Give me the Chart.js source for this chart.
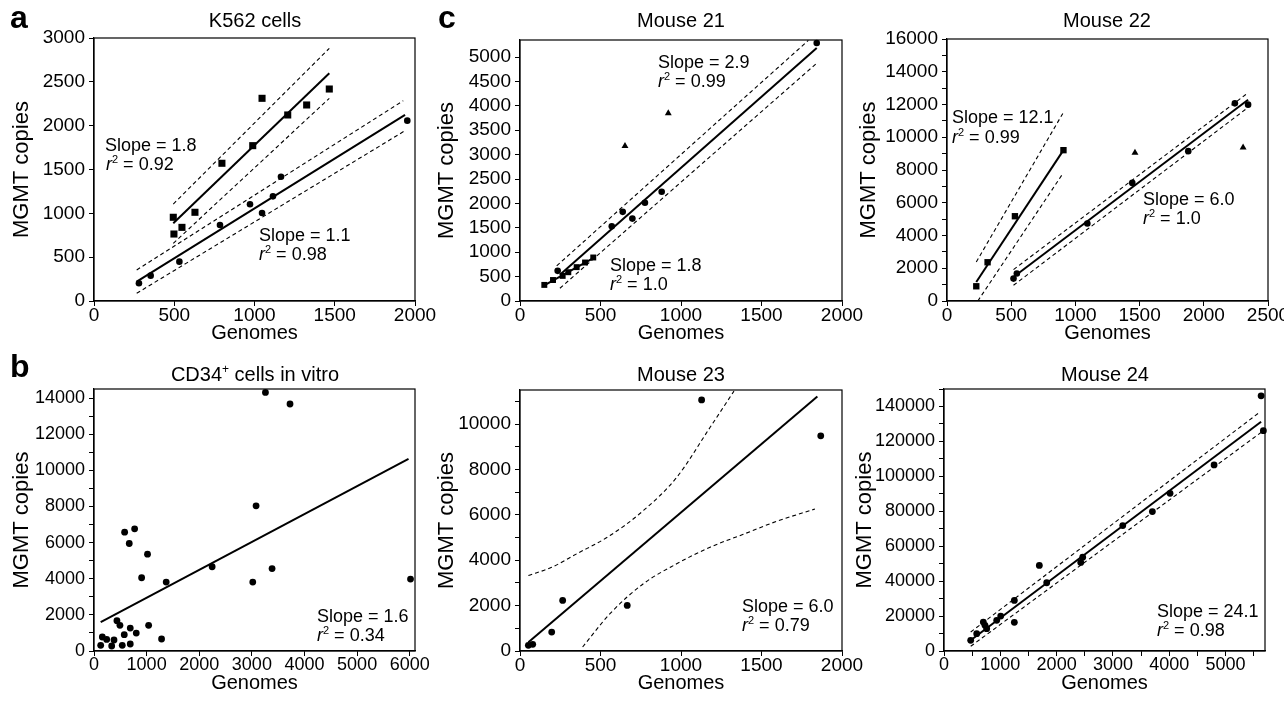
<!DOCTYPE html>
<html><head><meta charset="utf-8">
<script src="https://cdn.jsdelivr.net/npm/chart.js@4.4.1/dist/chart.umd.min.js"></script>
<style>
html,body{margin:0;padding:0;background:#fff;}
body{width:1284px;height:704px;position:relative;overflow:hidden;}
.layer{position:absolute;left:0;top:0;width:1284px;height:704px;}
</style></head><body>
<div class="layer"><canvas id="pA"></canvas></div>
<div class="layer"><canvas id="p21"></canvas></div>
<div class="layer"><canvas id="p22"></canvas></div>
<div class="layer"><canvas id="pB"></canvas></div>
<div class="layer"><canvas id="p23"></canvas></div>
<div class="layer"><canvas id="p24"></canvas></div>
<script>
// ---------- DATA ----------
// K562 cells
const k562SqX = [494, 498, 548, 629, 797, 989, 1047, 1207, 1325, 1466];
const k562SqY = [955, 764, 840, 1012, 1571, 1772, 2312, 2122, 2236, 2418];
const k562CiX = [280, 353, 532, 785, 972, 1047, 1115, 1165, 1952];
const k562CiY = [202, 289, 449, 867, 1103, 1004, 1194, 1418, 2057];
const k562SqFitX = [494, 1466], k562SqFitY = [886, 2597];
const k562SqUpX = [494, 1466], k562SqUpY = [1106, 2882];
const k562SqLoX = [494, 1466], k562SqLoY = [658, 2312];
const k562CiFitX = [266, 1938], k562CiFitY = [220, 2122];
const k562CiUpX = [266, 1927], k562CiUpY = [354, 2285];
const k562CiLoX = [266, 1938], k562CiLoY = [88, 1943];
// Mouse 21
const m21SqX = [151, 205, 265, 300, 352, 404, 455];
const m21SqY = [330, 430, 515, 590, 694, 789, 892];
const m21CiX = [234, 570, 638, 698, 776, 880, 1843];
const m21CiY = [618, 1531, 1827, 1689, 2013, 2239, 5288];
const m21TrX = [652, 921], m21TrY = [3179, 3846];
const m21CiFitX = [248, 1843], m21CiFitY = [536, 5185];
const m21CiUpX = [228, 1791], m21CiUpY = [721, 5342];
const m21CiLoX = [248, 1839], m21CiLoY = [262, 4862];
const m21SqFitX = [145, 455], m21SqFitY = [309, 880];
// Mouse 22
const m22SqX = [228, 316, 529, 907], m22SqY = [899, 2366, 5177, 9211];
const m22CiX = [518, 544, 1093, 1443, 1879, 2242, 2345];
const m22CiY = [1369, 1675, 4731, 7213, 9150, 12070, 11990];
const m22TrX = [1464, 2306], m22TrY = [9058, 9376];
const m22SqFitX = [228, 907], m22SqFitY = [1161, 9211];
const m22SqUpX = [228, 902], m22SqUpY = [2384, 11455];
const m22SqLoX = [240, 894], m22SqLoY = [0, 7683];
const m22CiFitX = [518, 2345], m22CiFitY = [1467, 12286];
const m22CiUpX = [518, 2345], m22CiUpY = [1919, 12714];
const m22CiLoX = [518, 2345], m22CiLoY = [960, 11822];
// CD34+ cells in vitro
const cdX = [3258, 3725, 3080, 582, 772, 670, 1017, 905, 1372, 2245, 3017, 3384, 6015,
             127, 158, 241, 336, 380, 436, 493, 537, 575, 689, 689, 803, 1038, 1284];
const cdY = [14309, 13669, 8033, 6575, 6762, 5950, 5359, 4055, 3812, 4663, 3812, 4564, 3978,
             315, 774, 641, 276, 608, 1674, 1420, 315, 906, 387, 1271, 994, 1420, 663];
const cdFitX = [127, 5977], cdFitY = [1602, 10630];
// Mouse 23
const m23X = [52, 79, 197, 265, 666, 1128, 1868];
const m23Y = [250, 294, 835, 2229, 2009, 11064, 9481];
const m23FitX = [52, 1847], m23FitY = [382, 11209];
const m23UpX = [52, 197, 352, 559, 766, 973, 1180, 1329];
const m23UpY = [3327, 3690, 4281, 5086, 6185, 7648, 9846, 11450];
const m23LoX = [389, 559, 766, 973, 1180, 1387, 1594, 1832];
const m23LoY = [176, 1644, 2963, 3842, 4571, 5143, 5714, 6256];
// Mouse 24
const m24X = [474, 581, 698, 728, 758, 936, 1007, 1249, 1249, 1693, 1824, 2428, 2463, 3174, 3700, 4014, 4796, 5631, 5671];
const m24Y = [6114, 9943, 16571, 14686, 12800, 17543, 20000, 28971, 16400, 48971, 39086, 50686, 53714, 71829, 79829, 90286, 106514, 146114, 126114];
const m24FitX = [474, 5631], m24FitY = [6114, 131257];
const m24UpX = [474, 5600], m24UpY = [10857, 136571];
const m24LoX = [474, 5671], m24LoY = [2686, 126114];

// ---------- RENDERING ----------
const FONT = '"Liberation Sans", Arial, Helvetica, sans-serif';
Chart.defaults.font.family = FONT;
Chart.defaults.color = '#000';
const YT = 22, XT = 20, TTL = 20, ANN = 18;

function pts(xs, ys){ return xs.map((x,i)=>({x:x, y:ys[i]})); }
function dots(xs, ys, style, r){ return {data:pts(xs,ys), pointStyle:style, pointRadius:r, pointHoverRadius:r,
  pointBackgroundColor:'#000', pointBorderColor:'#000', pointBorderWidth:0, backgroundColor:'#000', borderColor:'#000', showLine:false, clip:12}; }
function solid(xs, ys){ return {data:pts(xs,ys), showLine:true, pointRadius:0, pointHoverRadius:0, borderColor:'#000', borderWidth:2, fill:false}; }
function dashed(xs, ys){ return {data:pts(xs,ys), showLine:true, pointRadius:0, pointHoverRadius:0, borderColor:'#000', borderWidth:1.1, borderDash:[4,3], fill:false, cubicInterpolationMode:'monotone'}; }

function axis(pos, min, max, step, labStep, size, text, tpad, tickSize, titleSize){
  return {
    type:'linear', position:pos, min:min, max:max,
    afterFit: s => { if (pos==='left') s.width = size; else s.height = size; s.paddingLeft=0; s.paddingRight=0; s.paddingTop=0; s.paddingBottom=0; },
    afterBuildTicks: s => { const t = []; for (let k = 0; min + k*step <= max + 1e-9; k++) t.push({value: min + k*step}); s.ticks = t; },
    ticks:{stepSize:step, autoSkip:false, maxRotation:0, minRotation:0, includeBounds:false, padding: pos==='left'?4:-2,
      color:'#000', font:{size:tickSize}, callback: v => { const r = v/labStep; return Math.abs(r - Math.round(r)) < 1e-6 ? String(Math.round(v)) : ''; }},
    grid:{display:true, drawOnChartArea:false, drawTicks:true, tickLength:5, tickColor:'#000', color:'#000', lineWidth:1},
    border:{display:true, color:'#000', width:1.2},
    title:{display:true, text:text, color:'#000', font:{size:titleSize}, padding: pos==='left'?{top:tpad,bottom:0}:{top:0,bottom:tpad}}
  };
}

const decoMap = {};
function drawRich(ctx, it){
  const size = it.size; let x = it.x;
  const fontFor = s => (s.it?'italic ':'') + (it.bold?'bold ':'') + (s.sup? Math.round(size*0.62) : size) + 'px ' + FONT;
  let total = 0;
  it.segs.forEach(s => { ctx.font = fontFor(s); total += ctx.measureText(s.t).width; });
  if (it.align === 'center') x -= total/2; else if (it.align === 'right') x -= total;
  ctx.textBaseline = 'alphabetic'; ctx.textAlign = 'left'; ctx.fillStyle = '#000';
  it.segs.forEach(s => { ctx.font = fontFor(s); ctx.fillText(s.t, x, it.y - (s.sup? size*0.4 : 0)); x += ctx.measureText(s.t).width; });
}
const decoPlugin = {
  id:'deco',
  afterDatasetsDraw(chart){
    const a = chart.chartArea, ctx = chart.ctx;
    ctx.save(); ctx.strokeStyle='#000'; ctx.lineWidth=1.2;
    ctx.strokeRect(a.left, a.top, a.right-a.left, a.bottom-a.top);
    ctx.restore();
  },
  afterDraw(chart){
    const items = decoMap[chart.canvas.id] || [];
    const ctx = chart.ctx; ctx.save();
    items.forEach(it => drawRich(ctx, it));
    ctx.restore();
  }
};
Chart.register(decoPlugin);

function T(x, y, s, size, align, bold){ return {x:x, y:y, segs:[{t:s}], size:size, align:align||'left', bold:!!bold}; }
function R2(x, y, v){ return {x:x, y:y, segs:[{t:'r', it:true},{t:'2', sup:true},{t:' = ' + v}], size:ANN, align:'left'}; }

function panel(id, area, xa, ya, yTitleX, tickSize, datasets, deco){
  const yW = 92, xH = 50;
  const ax = axis('bottom', xa[0], xa[1], xa[2], xa[3], xH, 'Genomes', 6, tickSize, XT);
  const ay = axis('left', ya[0], ya[1], ya[2], ya[3], yW, 'MGMT copies', Math.max(0, yTitleX - (area.x0 - yW) - YT*0.6), tickSize, YT);
  decoMap[id] = deco;
  new Chart(document.getElementById(id), {
    type:'scatter',
    data:{datasets:datasets},
    options:{
      responsive:true, maintainAspectRatio:false, animation:false,
      layout:{padding:{left:area.x0 - yW, top:area.y0, right:1284 - area.x1, bottom:704 - (area.y1 + xH)}},
      plugins:{legend:{display:false}, tooltip:{enabled:false}, title:{display:false}},
      events:[],
      scales:{x:ax, y:ay}
    }
  });
}

// Panel a: K562 cells
panel('pA', {x0:94, x1:415, y0:38, y1:301}, [0, 2000, 500, 500], [0, 3000, 500, 500], 22, 19, [
  dots(k562SqX, k562SqY, 'rect', 5), dots(k562CiX, k562CiY, 'circle', 3.3),
  solid(k562SqFitX, k562SqFitY), dashed(k562SqUpX, k562SqUpY), dashed(k562SqLoX, k562SqLoY),
  solid(k562CiFitX, k562CiFitY), dashed(k562CiUpX, k562CiUpY), dashed(k562CiLoX, k562CiLoY)
], [
  T(10, 28, 'a', 32, 'left', true), T(255, 27, 'K562 cells', TTL, 'center'),
  T(105, 151, 'Slope = 1.8', ANN), R2(106, 170, '0.92'),
  T(259, 241, 'Slope = 1.1', ANN), R2(259, 260, '0.98')
]);

// Mouse 21
panel('p21', {x0:520, x1:842, y0:40, y1:301}, [0, 2000, 500, 500], [0, 5350, 500, 500], 447, 19, [
  dots(m21SqX, m21SqY, 'rect', 4.2), dots(m21CiX, m21CiY, 'circle', 3.3), dots(m21TrX, m21TrY, 'triangle', 4),
  solid(m21CiFitX, m21CiFitY), dashed(m21CiUpX, m21CiUpY), dashed(m21CiLoX, m21CiLoY), solid(m21SqFitX, m21SqFitY)
], [
  T(438, 28, 'c', 32, 'left', true), T(681, 27, 'Mouse 21', TTL, 'center'),
  T(658, 68, 'Slope = 2.9', ANN), R2(658, 87, '0.99'),
  T(610, 271, 'Slope = 1.8', ANN), R2(610, 290, '1.0')
]);

// Mouse 22
panel('p22', {x0:947, x1:1268, y0:39, y1:301}, [0, 2500, 500, 500], [0, 16000, 1000, 2000], 869, 19, [
  dots(m22SqX, m22SqY, 'rect', 4.5), dots(m22CiX, m22CiY, 'circle', 3.3), dots(m22TrX, m22TrY, 'triangle', 4),
  solid(m22SqFitX, m22SqFitY), dashed(m22SqUpX, m22SqUpY), dashed(m22SqLoX, m22SqLoY),
  solid(m22CiFitX, m22CiFitY), dashed(m22CiUpX, m22CiUpY), dashed(m22CiLoX, m22CiLoY)
], [
  T(1107, 27, 'Mouse 22', TTL, 'center'),
  T(952, 123, 'Slope = 12.1', ANN), R2(952, 143, '0.99'),
  T(1143, 205, 'Slope = 6.0', ANN), R2(1143, 224, '1.0')
]);

// Panel b: CD34+ cells in vitro
panel('pB', {x0:94, x1:415, y0:389, y1:651}, [0, 6100, 1000, 1000], [0, 14500, 1000, 2000], 22, 18, [
  dots(cdX, cdY, 'circle', 3.4), solid(cdFitX, cdFitY)
], [
  T(10, 377, 'b', 32, 'left', true),
  {x:255, y:381, segs:[{t:'CD34'},{t:'+', sup:true},{t:' cells in vitro'}], size:TTL, align:'center'},
  T(317, 622, 'Slope = 1.6', ANN), R2(317, 641, '0.34')
]);

// Mouse 23
panel('p23', {x0:520, x1:842, y0:390, y1:651}, [0, 2000, 500, 500], [0, 11500, 1000, 2000], 447, 19, [
  dots(m23X, m23Y, 'circle', 3.4), solid(m23FitX, m23FitY), dashed(m23UpX, m23UpY), dashed(m23LoX, m23LoY)
], [
  T(681, 381, 'Mouse 23', TTL, 'center'),
  T(742, 612, 'Slope = 6.0', ANN), R2(742, 631, '0.79')
]);

// Mouse 24
panel('p24', {x0:944, x1:1265, y0:389, y1:651}, [0, 5700, 500, 1000], [0, 150000, 10000, 20000], 865, 18, [
  dots(m24X, m24Y, 'circle', 3.4), solid(m24FitX, m24FitY), dashed(m24UpX, m24UpY), dashed(m24LoX, m24LoY)
], [
  T(1105, 381, 'Mouse 24', TTL, 'center'),
  T(1157, 617, 'Slope = 24.1', ANN), R2(1157, 636, '0.98')
]);
</script>
</body></html>
